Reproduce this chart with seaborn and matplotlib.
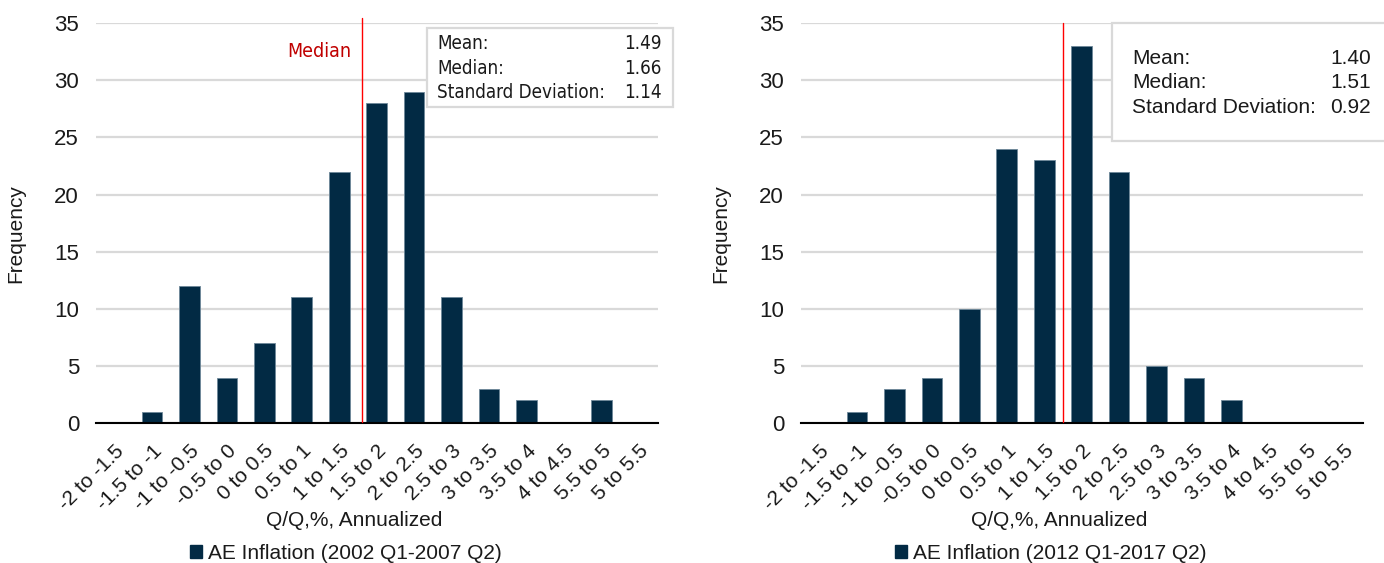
import numpy as np
import pandas as pd
import matplotlib
matplotlib.use('Agg')
import matplotlib.pyplot as plt
import seaborn as sns
from matplotlib.patches import Rectangle, Patch
from matplotlib import font_manager

# ---- data ----
bins = ['-2 to -1.5', '-1.5 to -1', '-1 to -0.5', '-0.5 to 0', '0 to 0.5',
        '0.5 to 1', '1 to 1.5', '1.5 to 2', '2 to 2.5', '2.5 to 3',
        '3 to 3.5', '3.5 to 4', '4 to 4.5', '5.5 to 5', '5 to 5.5']
freq_2002 = [0, 1, 12, 4, 7, 11, 22, 28, 29, 11, 3, 2, 0, 2, 0]
freq_2012 = [0, 1, 3, 4, 10, 24, 23, 33, 22, 5, 4, 2, 0, 0, 0]
legend_2002 = 'AE Inflation (2002 Q1-2007 Q2)'
legend_2012 = 'AE Inflation (2012 Q1-2017 Q2)'
stat_names = ['Mean:', 'Median:', 'Standard Deviation:']
stats_2002 = ['1.49', '1.66', '1.14']
stats_2012 = ['1.40', '1.51', '0.92']
# where the red median line crosses the category axis
median_pos_2002 = 6.62
median_pos_2012 = 6.5

W, H = 1384, 563
NAVY = '#022A44'
GRID = '#D9D9D9'
TXT = '#1a1a1a'

sns.set_theme(style='white')
fonts = font_manager.fontManager.ttflist
names = {f.name for f in fonts}
main_font = 'Liberation Sans' if 'Liberation Sans' in names else 'DejaVu Sans'
plt.rcParams['font.family'] = [main_font, 'DejaVu Sans']

# a condensed face for the left-hand box, if the machine has one
narrow = None
for f in fonts:
    low = f.name.lower()
    if 'narrow' in low or 'condensed' in low:
        narrow = dict(family=[f.name, main_font])
        break
    if f.stretch in ('condensed', 'semi-condensed') and f.name in (main_font, 'Roboto', 'DejaVu Sans'):
        narrow = dict(family=[f.name, main_font], stretch=f.stretch)
        break
if narrow is None:
    narrow = dict(family=[main_font, 'DejaVu Sans'])
narrow_size = 13.5


def fx(px):
    return px / W


def fy(py):
    return 1 - py / H


fig = plt.figure(figsize=(W / 100, H / 100), dpi=100)
ax_w = 562 / W
ax_h = (423.3 - 23) / H
ax_b = fy(423.3)
ax1 = fig.add_axes([fx(95.7), ax_b, ax_w, ax_h])
ax2 = fig.add_axes([fx(800.7), ax_b, ax_w, ax_h])


def draw_panel(ax, freq, label, med_pos, line_top):
    df = pd.DataFrame({'bin': bins, 'freq': freq})
    sns.barplot(data=df, x='bin', y='freq', ax=ax, color=NAVY, width=0.55,
                edgecolor='#6d8799', linewidth=0.6, saturation=1)
    ax.set_xlim(-0.5, len(bins) - 0.5)
    ax.set_ylim(0, 35)
    ax.set_yticks(range(0, 36, 5))
    ax.yaxis.grid(True, color=GRID, linewidth=1.6)
    ax.set_axisbelow(True)
    for s in ['left', 'top', 'right']:
        ax.spines[s].set_visible(False)
    ax.spines['bottom'].set_color('black')
    ax.spines['bottom'].set_linewidth(1.5)
    ax.tick_params(axis='y', length=0, pad=12, labelsize=16, labelcolor=TXT)
    ax.set_xticks(range(len(bins)))
    ax.set_xticklabels(bins, rotation=45, ha='right', rotation_mode='anchor',
                       fontsize=15, color=TXT)
    ax.tick_params(axis='x', which='major', length=0, pad=13)
    ax.set_xticks(np.arange(-0.5, len(bins)), minor=True)
    ax.tick_params(axis='x', which='minor', length=6, width=1.5, color='black',
                   direction='out')
    ax.set_xlabel('Q/Q,%, Annualized', fontsize=15, color=TXT)
    ax.xaxis.set_label_coords(0.46, -0.218)
    ax.set_ylabel('Frequency', fontsize=15, color=TXT)
    ax.yaxis.set_label_coords(-0.125, 0.475)
    ax.plot([med_pos, med_pos], [0.15, line_top], color='#FF0000', lw=1.0,
            clip_on=False, zorder=3)
    handle = Patch(facecolor=NAVY, edgecolor=NAVY)
    ax.legend(handles=[handle], labels=[label], loc='center',
              bbox_to_anchor=(0.445, -0.325), frameon=False, fontsize=15,
              handlelength=0.55, handleheight=0.6, handletextpad=0.3,
              labelcolor=TXT)


draw_panel(ax1, freq_2002, legend_2002, median_pos_2002, 35.45)
draw_panel(ax2, freq_2012, legend_2012, median_pos_2012, 35)

# "Median" label on the left panel
ax1.text(5.48, 32.5, 'Median', color='#C00000', fontsize=14,
         ha='center', va='center', **narrow)

# stats box, left panel
fig.add_artist(Rectangle((fx(427), fy(107)), fx(673) - fx(427), fy(28) - fy(107),
                         transform=fig.transFigure, facecolor='white',
                         edgecolor=GRID, lw=1.6, zorder=5))
for i, (n, v) in enumerate(zip(stat_names, stats_2002)):
    y = fy(43.5 + 24.5 * i)
    fig.text(fx(437), y, n, fontsize=narrow_size, ha='left', va='center',
             color=TXT, zorder=6, **narrow)
    fig.text(fx(662), y, v, fontsize=narrow_size, ha='right', va='center',
             color=TXT, zorder=6, **narrow)

# stats box, right panel
fig.add_artist(Rectangle((fx(1112), fy(141)), fx(1400) - fx(1112), fy(23) - fy(141),
                         transform=fig.transFigure, facecolor='white',
                         edgecolor=GRID, lw=1.6, zorder=5))
for i, (n, v) in enumerate(zip(stat_names, stats_2012)):
    y = fy(58.5 + 24.5 * i)
    fig.text(fx(1132), y, n, fontsize=15, ha='left', va='center',
             color=TXT, zorder=6)
    fig.text(fx(1371), y, v, fontsize=15, ha='right', va='center',
             color=TXT, zorder=6)

fig.savefig('out.png', dpi=100, facecolor='white')
